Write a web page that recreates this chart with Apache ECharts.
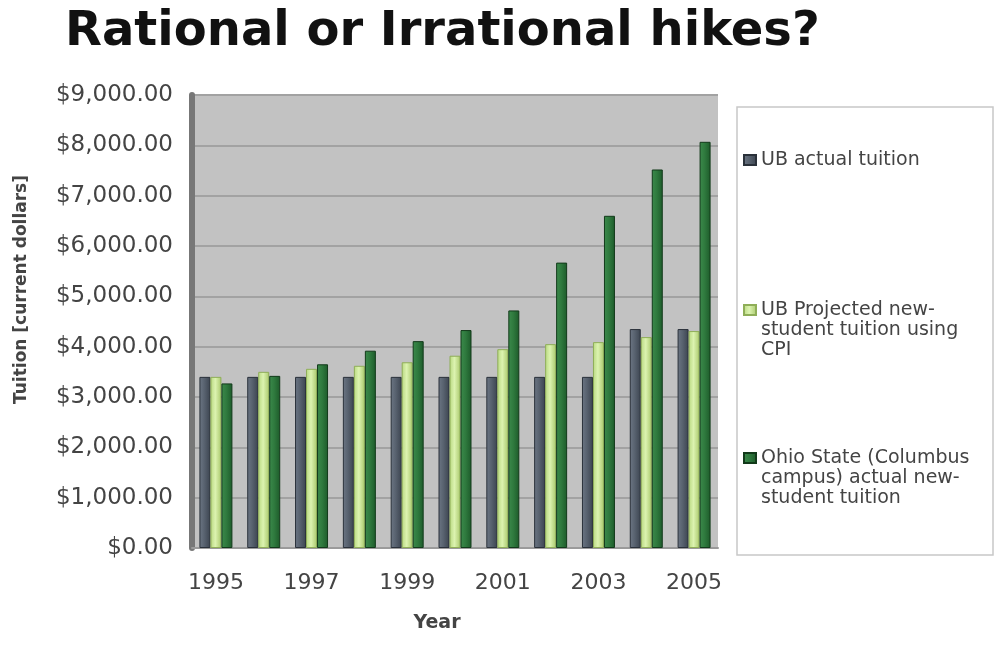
<!DOCTYPE html>
<html>
<head>
<meta charset="utf-8">
<script src="https://cdn.jsdelivr.net/npm/echarts@6/dist/echarts.min.js"></script>
<style>html,body{margin:0;padding:0;background:#fff;}#c{width:1000px;height:653px;}</style>
</head>
<body>
<div id="c"></div>
<script>
const years = ['1995','1996','1997','1998','1999','2000','2001','2002','2003','2004','2005'];
const ubActual = [3400,3400,3400,3400,3400,3400,3400,3400,3400,4350,4350];
const ubProjected = [3400,3500,3560,3620,3690,3820,3950,4050,4090,4190,4310];
const ohioState = [3270,3420,3650,3920,4110,4330,4720,5670,6600,7520,8070];
const seriesNames = [
  'UB actual tuition',
  'UB Projected new-\nstudent tuition using\nCPI',
  'Ohio State (Columbus\ncampus) actual new-\nstudent tuition'
];
const yTicks = {min: 0, max: 9000, interval: 1000};

const chart = echarts.init(document.getElementById('c'));
const font = 'DejaVu Sans';
function grad(a, b, c) {
  return {type: 'linear', x: 0, y: 0, x2: 1, y2: 0,
    colorStops: [{offset: 0, color: a}, {offset: 0.45, color: b}, {offset: 1, color: c}]};
}
const legendText = {fontFamily: font, fontSize: 19, color: '#444', lineHeight: 20};
chart.setOption({
  animation: false,
  backgroundColor: '#ffffff',
  title: {
    text: 'Rational or Irrational hikes?',
    left: 60, top: 4,
    textStyle: {fontFamily: font, fontSize: 48, fontWeight: 'bold', color: '#111'}
  },
  graphic: [{
    type: 'rect', shape: {x: 737, y: 107, width: 256, height: 448},
    style: {fill: '#fff', stroke: '#c8c8c8', lineWidth: 1.5}, z: -1
  }],
  legend: [
    {data: [seriesNames[0]], orient: 'vertical', left: 743, top: 150, padding: 0,
     itemWidth: 12, itemHeight: 10, icon: 'rect', textStyle: legendText},
    {data: [seriesNames[1]], orient: 'vertical', left: 743, top: 260, padding: 0,
     itemWidth: 12, itemHeight: 10, icon: 'rect', textStyle: legendText,
     formatter: n => '\n\n' + n},
    {data: [seriesNames[2]], orient: 'vertical', left: 743, top: 408, padding: 0,
     itemWidth: 12, itemHeight: 10, icon: 'rect', textStyle: legendText,
     formatter: n => '\n\n' + n}
  ],
  grid: {left: 192, right: 282, top: 95, bottom: 105, show: true,
         backgroundColor: '#c2c2c2', borderWidth: 0},
  xAxis: {
    type: 'category', data: years,
    name: 'Year', nameLocation: 'middle', nameGap: 66,
    nameTextStyle: {fontFamily: font, fontSize: 19, fontWeight: 'bold', color: '#444', padding: [0, 36, 0, 0]},
    axisLine: {show: true, lineStyle: {color: '#9a9a9a', width: 2}},
    axisTick: {show: false},
    axisLabel: {interval: 1, margin: 24, fontFamily: font, fontSize: 22, color: '#444'}
  },
  yAxis: {
    type: 'value', min: yTicks.min, max: yTicks.max, interval: yTicks.interval,
    name: 'Tuition [current dollars]', nameLocation: 'middle', nameGap: 162,
    nameTextStyle: {fontFamily: font, fontSize: 17, fontWeight: 'bold', color: '#444', padding: [0, 0, 0, 64]},
    axisLine: {show: true, lineStyle: {color: '#777', width: 6}},
    axisTick: {show: false},
    splitLine: {lineStyle: {color: '#a2a2a2', width: 2}},
    axisLabel: {margin: 19, fontFamily: font, fontSize: 23, color: '#444',
      formatter: v => '$' + v.toLocaleString('en-US', {minimumFractionDigits: 2, maximumFractionDigits: 2})}
  },
  series: [
    {name: seriesNames[0], type: 'bar', data: ubActual, barWidth: 11, barGap: '0%',
     itemStyle: {color: grad('#6c7684', '#58626f', '#3c4450'), borderColor: '#2a313a', borderWidth: 1}},
    {name: seriesNames[1], type: 'bar', data: ubProjected, barWidth: 11, barGap: '0%',
     itemStyle: {color: grad('#b8d880', '#dcf3b0', '#a9c86c'), borderColor: '#8fae58', borderWidth: 1}},
    {name: seriesNames[2], type: 'bar', data: ohioState, barWidth: 11, barGap: '0%',
     itemStyle: {color: grad('#3c8a4c', '#2f7a3e', '#1d5a2a'), borderColor: '#123a1a', borderWidth: 1}}
  ]
});
</script>
</body>
</html>
